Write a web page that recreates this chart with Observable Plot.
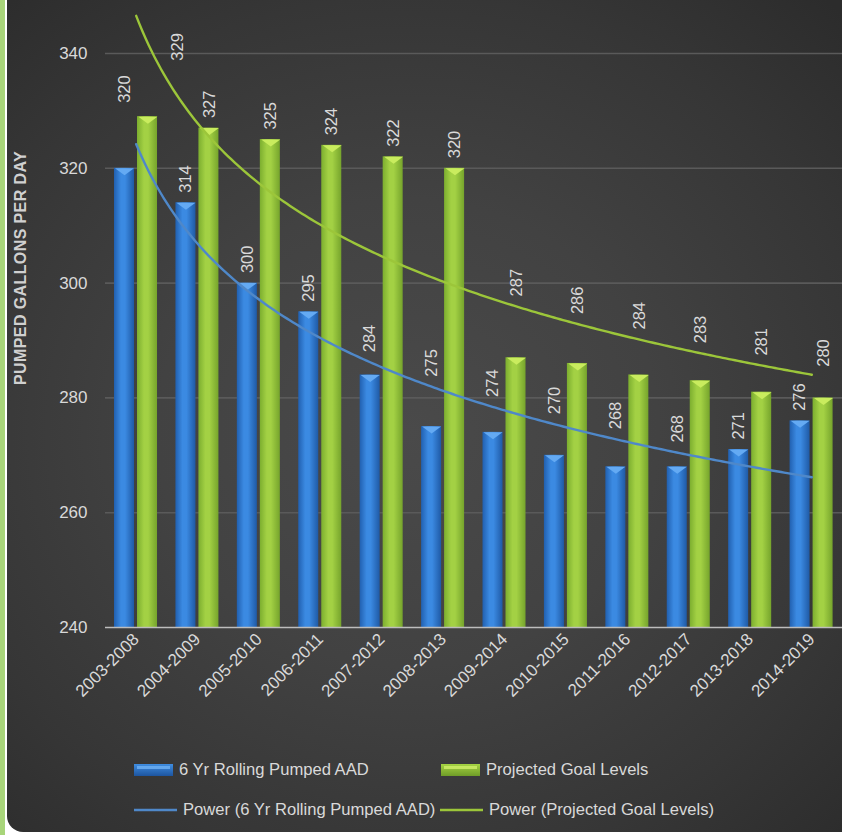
<!DOCTYPE html>
<html>
<head>
<meta charset="utf-8">
<script src="https://cdn.jsdelivr.net/npm/d3@7"></script>
<script src="https://cdn.jsdelivr.net/npm/@observablehq/plot@0.6"></script>
<style>
  html, body { margin: 0; padding: 0; background: #ffffff; }
  #wrap { position: relative; width: 842px; height: 835px; overflow: hidden; font-family: "Liberation Sans", Arial, sans-serif; }
  #strip { position: absolute; left: 0; top: 0; width: 5px; height: 835px; background: #a8d57a; }
  #bg { position: absolute; left: 7px; top: 0; width: 835px; height: 832px; border-bottom-left-radius: 16px;
        background: radial-gradient(ellipse 75% 70% at 48% 52%, #4a4a4a 0%, #424242 40%, #363636 75%, #2c2c2c 100%); }
  #chart { position: absolute; left: 0; top: 0; }
  #ytitle { position: absolute; left: 21px; top: 268px; transform: translate(-50%, -50%) rotate(-90deg); white-space: nowrap;
            font-family: "Liberation Sans", sans-serif; font-weight: bold; font-size: 16px; letter-spacing: 0.4px; color: #d0d0d0; }
  .leg { position: absolute; display: flex; align-items: center; color: #d9d9d9; font-size: 16.6px; white-space: nowrap; }
  .leg svg { margin-right: 6px; }
</style>
</head>
<body>
<div id="wrap">
  <div id="strip"></div>
  <div id="bg"></div>
  <div id="chart"></div>
  <div id="ytitle">PUMPED GALLONS PER DAY</div>
  <div id="legend"></div>
</div>
<script>
const categories = ["2003-2008","2004-2009","2005-2010","2006-2011","2007-2012","2008-2013","2009-2014","2010-2015","2011-2016","2012-2017","2013-2018","2014-2019"];
const pumpedAAD = [320, 314, 300, 295, 284, 275, 274, 270, 268, 268, 271, 276];
const goalLevels = [329, 327, 325, 324, 322, 320, 287, 286, 284, 283, 281, 280];
const yTicks = [240, 260, 280, 300, 320, 340];
const seriesNames = ["6 Yr Rolling Pumped AAD", "Projected Goal Levels"];
const trendNames = ["Power (6 Yr Rolling Pumped AAD)", "Power (Projected Goal Levels)"];

// Excel-style power trendline: least squares fit of ln(y) on ln(x), x = 1..n
function powerFit(ys) {
  const lx = ys.map((_, k) => Math.log(k + 1));
  const ly = ys.map(Math.log);
  const mx = d3.mean(lx), my = d3.mean(ly);
  const b = d3.sum(lx, (v, k) => (v - mx) * (ly[k] - my)) / d3.sum(lx, v => (v - mx) ** 2);
  const a = Math.exp(my - b * mx);
  return x => a * Math.pow(x, b);
}
const fBlue = powerFit(pumpedAAD);
const fGreen = powerFit(goalLevels);
const n = categories.length;
const trendSamples = d3.range(1, n + 0.0001, 0.05);
const trendBlue = trendSamples.map(x => ({x, y: fBlue(x)}));
const trendGreen = trendSamples.map(x => ({x, y: fGreen(x)}));

const LABEL_CAP = 337; // keep labels inside the top of the plot; capped labels slide right off the line
function labelRows(vals, f, side) {
  return vals.map((v, k) => {
    const want = Math.max(v, f(k + 1 + side * 0.19));
    return {i: k + 1, v, ly: Math.min(want, LABEL_CAP), nudge: want > LABEL_CAP ? 30 : 0};
  });
}
const blueRows = labelRows(pumpedAAD, fBlue, -1);
const greenRows = labelRows(goalLevels, fGreen, 1);

const BAR_OFF = 11.7;
const bevel = {draw(ctx) { ctx.moveTo(-9.5, 0); ctx.lineTo(9.5, 0); ctx.lineTo(0, 7); ctx.closePath(); }};

function defs() {
  const d = d3.create("svg:defs");
  const gb = d.append("linearGradient").attr("id", "gBlue").attr("x1", 0).attr("x2", 1).attr("y1", 0).attr("y2", 0);
  gb.append("stop").attr("offset", "0%").attr("stop-color", "#2160b0");
  gb.append("stop").attr("offset", "35%").attr("stop-color", "#3b8ae2");
  gb.append("stop").attr("offset", "55%").attr("stop-color", "#3b8ae2");
  gb.append("stop").attr("offset", "100%").attr("stop-color", "#1f5aa6");
  const gg = d.append("linearGradient").attr("id", "gGreen").attr("x1", 0).attr("x2", 1).attr("y1", 0).attr("y2", 0);
  gg.append("stop").attr("offset", "0%").attr("stop-color", "#7cae2f");
  gg.append("stop").attr("offset", "35%").attr("stop-color", "#a3d144");
  gg.append("stop").attr("offset", "55%").attr("stop-color", "#a3d144");
  gg.append("stop").attr("offset", "100%").attr("stop-color", "#76a42c");
  return d.node();
}

const FONT = "'Liberation Sans', Arial, sans-serif";
const chart = Plot.plot({
  width: 842,
  height: 740,
  marginLeft: 105,
  marginRight: 0,
  marginTop: 53,
  marginBottom: 113,
  style: {background: "transparent", color: "#d9d9d9", fontSize: "17px", fontFamily: FONT, overflow: "visible"},
  x: {type: "linear", domain: [0.5, n + 0.5]},
  y: {domain: [240, 340]},
  marks: [
    defs,
    Plot.gridY(yTicks.slice(1), {stroke: "#5a5a5a", strokeOpacity: 1, strokeWidth: 1.6}),
    Plot.axisY({ticks: yTicks, tickSize: 0, tickPadding: 18, label: null, fontSize: 17}),
    Plot.axisX({ticks: d3.range(1, n + 1), tickFormat: i => categories[i - 1], tickRotate: -45, tickSize: 0, tickPadding: 9, label: null, fontSize: 17}),
    Plot.rectY(blueRows, {x1: d => d.i - 0.5, x2: d => d.i + 0.5, y1: 240, y2: "v", insetLeft: 9, insetRight: 32.4, fill: "url(#gBlue)"}),
    Plot.rectY(greenRows, {x1: d => d.i - 0.5, x2: d => d.i + 0.5, y1: 240, y2: "v", insetLeft: 32, insetRight: 9.4, fill: "url(#gGreen)"}),
    Plot.dot(blueRows, {x: "i", y: "v", dx: -BAR_OFF, symbol: bevel, fill: "#64aaf3", stroke: "none"}),
    Plot.dot(greenRows, {x: "i", y: "v", dx: BAR_OFF, symbol: bevel, fill: "#c9ec5e", stroke: "none"}),
    Plot.ruleY([240], {stroke: "#bdbdbd", strokeWidth: 1.6}),
    Plot.line(trendBlue, {x: "x", y: "y", stroke: "#4f88c9", strokeWidth: 2.4}),
    Plot.line(trendGreen, {x: "x", y: "y", stroke: "#9cc63a", strokeWidth: 2.4}),
    Plot.text(blueRows, {x: d => d.i, y: "ly", text: d => String(d.v), rotate: -90, textAnchor: "start", dx: -BAR_OFF, dy: -10, fill: "#d9d9d9", fontSize: 16.5}),
    Plot.text(greenRows.filter(d => !d.nudge), {x: "i", y: "ly", text: d => String(d.v), rotate: -90, textAnchor: "start", dx: BAR_OFF, dy: -10, fill: "#d9d9d9", fontSize: 16.5}),
    Plot.text(greenRows.filter(d => d.nudge), {x: "i", y: "ly", text: d => String(d.v), rotate: -90, textAnchor: "start", dx: BAR_OFF + 30, dy: -10, fill: "#d9d9d9", fontSize: 16.5})
  ]
});
document.getElementById("chart").appendChild(chart);

// Legend
const legend = document.getElementById("legend");
function barSwatch(grad, hi) {
  return `<svg width="39" height="14"><rect x="0" y="1" width="39" height="12" fill="url(#${grad})"/><rect x="3" y="3" width="33" height="3" fill="${hi}" opacity="0.8"/></svg>`;
}
function lineSwatch(color) {
  return `<svg width="43" height="14"><line x1="0" x2="43" y1="7" y2="7" stroke="${color}" stroke-width="2.4"/></svg>`;
}
const items = [
  {left: 134, top: 770, sw: barSwatch("gBlueH", "#6fb2f5"), label: seriesNames[0]},
  {left: 441, top: 770, sw: barSwatch("gGreenH", "#d2f06a"), label: seriesNames[1]},
  {left: 134, top: 810, sw: lineSwatch("#4f88c9"), label: trendNames[0]},
  {left: 440, top: 810, sw: lineSwatch("#9cc63a"), label: trendNames[1]}
];
legend.innerHTML = `<svg width="0" height="0" style="position:absolute"><defs>
  <linearGradient id="gBlueH" x1="0" x2="0" y1="0" y2="1"><stop offset="0%" stop-color="#3f8de0"/><stop offset="100%" stop-color="#1d55a0"/></linearGradient>
  <linearGradient id="gGreenH" x1="0" x2="0" y1="0" y2="1"><stop offset="0%" stop-color="#a6d443"/><stop offset="100%" stop-color="#6f9c28"/></linearGradient>
</defs></svg>` + items.map(it => `<div class="leg" style="left:${it.left}px;top:${it.top}px;transform:translateY(-50%)">${it.sw}<span>${it.label}</span></div>`).join("");
</script>
</body>
</html>
